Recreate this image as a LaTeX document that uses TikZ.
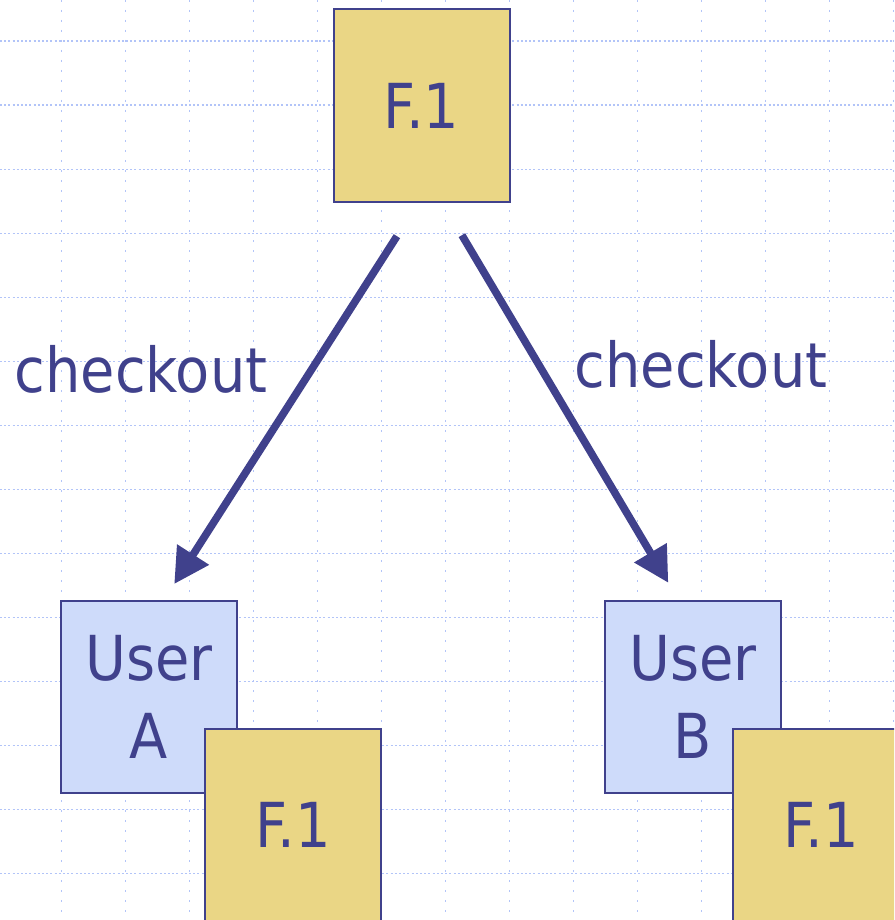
\documentclass[tikz,border=0pt]{standalone}
\usepackage{fontspec}
\setmainfont{DejaVu Sans Condensed}
\usepackage{tikz}
\usetikzlibrary{arrows.meta}

\definecolor{inkblue}{RGB}{64,65,140}
\definecolor{filegold}{RGB}{234,214,133}
\definecolor{userblue}{RGB}{206,219,250}
\definecolor{gridblue}{RGB}{178,196,248}

\begin{document}
\begin{tikzpicture}[x=0.5pt, y=-0.5pt,
		file_style/.style={rectangle,draw=inkblue,line width=1pt,fill=filegold,text=inkblue,
			minimum width=88pt,minimum height=96pt,inner sep=0pt,font=\fontsize{31}{39}\selectfont},
		user_style/.style={file_style,fill=userblue,align=center},
		edge_style/.style={draw=inkblue,line width=3.8pt,-{Triangle[length=17.5pt,width=18pt]}},
		label_style/.style={text=inkblue,anchor=base,inner sep=0pt,font=\fontsize{31}{39}\selectfont},
		gridh_style/.style={draw=gridblue,line width=0.8pt,dash pattern=on 1pt off 1.1pt},
		gridv_style/.style={draw=gridblue,line width=0.8pt,dash pattern=on 1pt off 4pt}]

		\clip (0,0) rectangle (894,920);
		\fill[white] (0,0) rectangle (894,920);

		% background grid
		\foreach \i in {0,...,13} {
			\draw[gridv_style] (61.3+64*\i,0) -- (61.3+64*\i,920);
			\draw[gridh_style] (0,41.3+64*\i) -- (894,41.3+64*\i);
		}

		\node[file_style] (top) at (421.5,105.5) {F.1};
		\node[user_style] (userA) at (149,697) {User\\A};
		\node[file_style] (fileA) at (293,825) {F.1};
		\node[user_style] (userB) at (693,697) {User\\B};
		\node[file_style] (fileB) at (821,825) {F.1};

		\draw[edge_style, shorten <=20pt, shorten >=9.5pt]
			([shift={(-3,0)}]top.south) -- ([shift={(15,0)}]userA.north);
		\draw[edge_style, shorten <=19pt, shorten >=10pt]
			([shift={(21,0)}]top.south) -- ([shift={(-14.5,0)}]userB.north);

		\node[label_style] (labelA) at (141,392) {checkout};
		\node[label_style] (labelB) at (701,387) {checkout};

\end{tikzpicture}
\end{document}
